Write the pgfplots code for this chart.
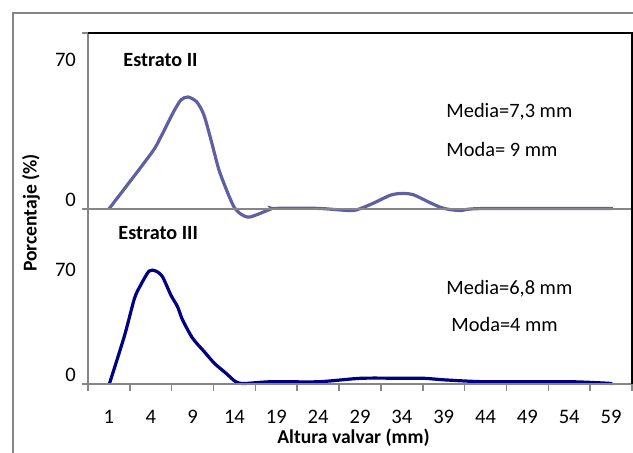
\documentclass[border=0pt]{standalone}
\usepackage{pgfplots}
\pgfplotsset{compat=1.18}
\usepackage{fontspec}
\setmainfont{Carlito}
\definecolor{topline}{RGB}{96,96,160}
\definecolor{botline}{RGB}{0,0,128}
\definecolor{axgray}{RGB}{134,134,134}
\pgfplotsset{/pgf/number format/assume math mode=true}
\begin{document}
\begin{tikzpicture}[font=\fontsize{10.2}{12}\selectfont]
\useasboundingbox (0,0) rectangle (316.5pt,226.5pt);
\draw[axgray, line width=1pt] (6.5pt,0) -- (6.5pt,220pt) -- (316.5pt,220pt);
% bottom panel: Estrato III
\begin{axis}[at={(44pt,34.5pt)}, anchor=south west, width=272pt, height=87.5pt,
  scale only axis, xmin=-0.5, xmax=12.5, ymin=0, ymax=116.67,
  axis line style={draw=none},
  xtick={0,...,12}, xticklabels={1,4,9,14,19,24,29,34,39,44,49,54,59},
  minor xtick={-0.5,0.5,...,12.5},
  ytick={0,70}, xtick pos=lower, ytick pos=left,
  major tick length=0pt, minor tick length=3.5pt, tick align=outside,
  minor tick style={axgray, line width=0.75pt},
  ticklabel style={font=\fontsize{10.3}{12}\selectfont},
  xticklabel style={anchor=center, yshift=-16.5pt},
  yticklabel style={anchor=east, yshift=4.5pt, xshift=-2.5pt},
  clip=false]
\addplot[botline, line width=1.6pt, smooth, tension=0.45] coordinates {
(0.01,0) (0.37,32) (0.61,57) (0.76,66) (0.96,75.3) (1.12,75.3) (1.28,71.5)
(1.48,59.3) (1.64,51.5) (1.76,42.7) (2.00,30.5) (2.28,21.5) (2.52,13.8)
(2.80,7.1) (3.03,1.5) (3.23,0.3) (3.87,1.5) (5.02,1.5) (6.02,3.8) (7.02,3.8)
(7.53,3.8) (8.05,2.7) (9.01,1.5) (11.04,1.5) (12.03,0.3)};
\end{axis}
% top panel: Estrato II
\begin{axis}[at={(44pt,122pt)}, anchor=south west, width=272pt, height=88pt,
  scale only axis, xmin=-0.5, xmax=12.5, ymin=0, ymax=88,
  axis line style={draw=none},
  xtick=\empty, ytick={0,70}, ytick pos=left, major tick length=0pt,
  ticklabel style={font=\fontsize{10.3}{12}\selectfont},
  yticklabel style={anchor=east, yshift=4.5pt, xshift=-2.5pt},
  clip=false]
\addplot[topline, line width=1.6pt, smooth, tension=0.45] coordinates {
(0,0) (1.0,27.5) (1.24,36) (1.53,48) (1.72,54.5) (1.89,56) (2.10,53.5)
(2.27,47) (2.44,34.5) (2.63,19.5) (2.84,8) (2.99,1) (3.15,-2.5) (3.37,-4)
(3.87,0) (3.94,0.3) (4.99,0.3) (5.78,-0.8) (6.02,0.3) (6.33,3) (6.74,7)
(7.03,7.8) (7.29,7) (7.69,3) (8.00,0.3) (8.41,-0.8) (8.89,0.2) (12.04,0.2)};
\end{axis}
% frame lines
\draw[axgray, line width=0.8pt] (41pt,210pt) -- (44pt,210pt);
\draw[axgray, line width=0.8pt] (44pt,210pt) -- (44pt,34.5pt);
\draw[axgray, line width=0.8pt] (41pt,122pt) -- (316pt,122pt);
\draw[axgray, line width=0.8pt] (41pt,34.5pt) -- (316pt,34.5pt);
\draw[black, line width=0.8pt] (44pt,210pt) -- (316pt,210pt) -- (316pt,34.5pt);
% texts
\node[anchor=west, inner sep=0pt, font=\fontsize{10.1}{12}\selectfont\bfseries] at (61.5pt,196.5pt) {Estrato II};
\node[anchor=west, inner sep=0pt, font=\fontsize{10.1}{12}\selectfont\bfseries] at (59pt,110pt) {Estrato III};
\node[anchor=west, inner sep=0pt] at (223pt,170.5pt) {Media=7,3 mm};
\node[anchor=west, inner sep=0pt] at (223pt,151.5pt) {Moda= 9 mm};
\node[anchor=west, inner sep=0pt] at (223pt,82pt) {Media=6,8 mm};
\node[anchor=west, inner sep=0pt] at (225.5pt,64pt) {Moda=4 mm};
\node[rotate=90, inner sep=0pt, font=\fontsize{9.8}{11}\selectfont\bfseries] at (15.5pt,120pt) {Porcentaje (\%)};
\node[inner sep=0pt, font=\fontsize{9.8}{11}\selectfont\bfseries] at (176.75pt,7.5pt) {Altura valvar (mm)};
\end{tikzpicture}
\end{document}
